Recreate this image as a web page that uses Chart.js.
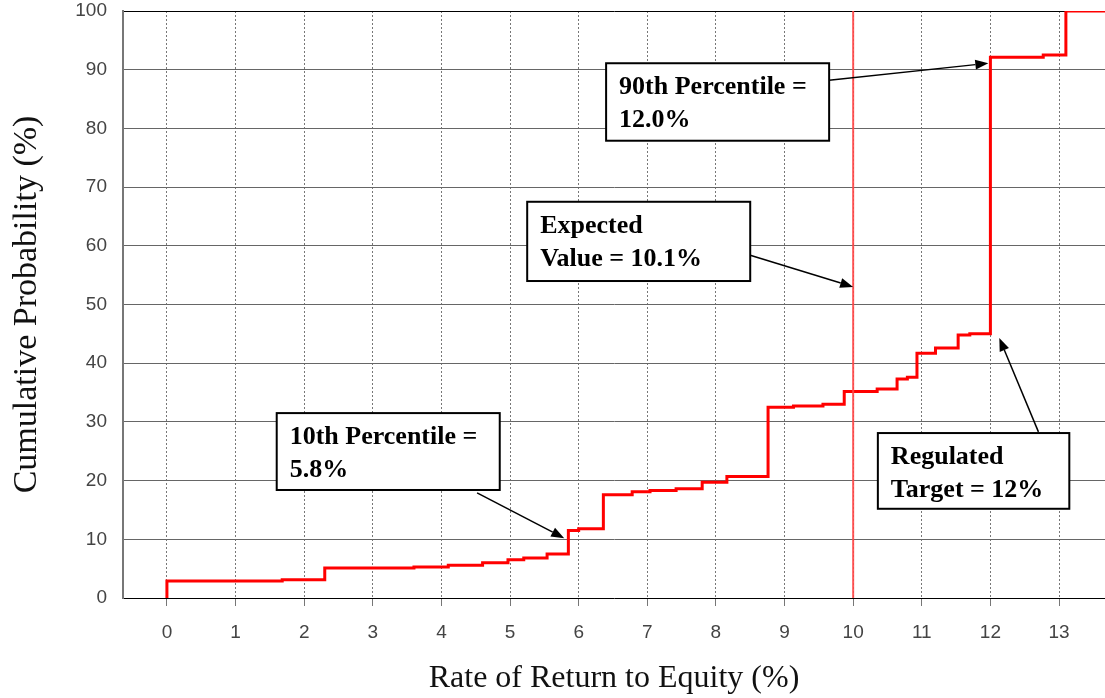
<!DOCTYPE html>
<html>
<head>
<meta charset="utf-8">
<script src="https://cdn.jsdelivr.net/npm/chart.js@4/dist/chart.umd.min.js"></script>
<style>
  html, body { margin: 0; padding: 0; background: #fff; }
</style>
</head>
<body>
<canvas id="cdf-chart" width="1105" height="698"></canvas>
<script>
// cumulative distribution of rate of return
const stepX = [0, 0, 1.68, 2.3, 3.6, 4.1, 4.6, 4.97, 5.2, 5.54, 5.85, 6.0, 6.36, 6.78, 7.04, 7.42, 7.8, 8.16,
               8.76, 9.13, 9.56, 9.87, 10.35, 10.64, 10.79, 10.93, 11.2, 11.53, 11.7, 12.0, 12.77, 13.1, 13.7];
const stepY = [0, 2.9, 3.1, 5.1, 5.3, 5.6, 6.0, 6.5, 6.8, 7.5, 11.5, 11.8, 17.6, 18.1, 18.3, 18.6, 19.7, 20.7,
               32.5, 32.7, 33.0, 35.2, 35.6, 37.3, 37.6, 41.7, 42.6, 44.8, 45.0, 92.1, 92.5, 100, 100];
const refLineX = 10;
const xTicks = [0, 1, 2, 3, 4, 5, 6, 7, 8, 9, 10, 11, 12, 13];
const yTicks = [0, 10, 20, 30, 40, 50, 60, 70, 80, 90, 100];

const noteText = [
  ['90th Percentile =', '12.0%'],
  ['Expected', 'Value = 10.1%'],
  ['10th Percentile =', '5.8%'],
  ['Regulated', 'Target = 12%']
];
// box [x0, x1, yTop, yBottom] and arrow [fromX, fromY, toX, toY], in data units
const noteBox = [
  [6.40, 9.65, 91.1, 77.9],
  [5.25, 8.50, 67.5, 54.0],
  [1.60, 4.85, 31.5, 18.4],
  [10.36, 13.15, 28.1, 15.2]
];
const noteArrow = [
  [9.65, 88.2, 11.97, 91.1],
  [8.50, 58.4, 10.0, 53.0],
  [4.52, 17.9, 5.79, 10.2],
  [12.70, 28.3, 12.13, 44.3]
];

const stepPoints = stepX.map((x, i) => ({x: x, y: stepY[i]}));

function drawArrow(ctx, x0, y0, x1, y1) {
  const ang = Math.atan2(y1 - y0, x1 - x0);
  const len = 13, half = 5;
  ctx.beginPath();
  ctx.moveTo(x0, y0);
  ctx.lineTo(x1 - Math.cos(ang) * len, y1 - Math.sin(ang) * len);
  ctx.stroke();
  ctx.beginPath();
  ctx.moveTo(x1, y1);
  ctx.lineTo(x1 - Math.cos(ang) * len - Math.sin(ang) * half, y1 - Math.sin(ang) * len + Math.cos(ang) * half);
  ctx.lineTo(x1 - Math.cos(ang) * len + Math.sin(ang) * half, y1 - Math.sin(ang) * len - Math.cos(ang) * half);
  ctx.closePath();
  ctx.fill();
}

const callouts = {
  id: 'callouts',
  afterDatasetsDraw(chart) {
    const ctx = chart.ctx;
    const xs = chart.scales.x, ys = chart.scales.y;
    ctx.save();
    noteText.forEach((lines, i) => {
      const b = noteBox[i], a = noteArrow[i];
      const l = xs.getPixelForValue(b[0]), r = xs.getPixelForValue(b[1]);
      const t = ys.getPixelForValue(b[2]), btm = ys.getPixelForValue(b[3]);
      ctx.fillStyle = '#fff';
      ctx.fillRect(l, t, r - l, btm - t);
      ctx.strokeStyle = '#000';
      ctx.lineWidth = 2;
      ctx.strokeRect(l, t, r - l, btm - t);
      ctx.fillStyle = '#000';
      ctx.font = 'bold 26px "Liberation Serif", "DejaVu Serif", serif';
      ctx.textBaseline = 'alphabetic';
      ctx.textAlign = 'left';
      ctx.fillText(lines[0], l + 13, t + 31);
      ctx.fillText(lines[1], l + 13, t + 64);
      ctx.lineWidth = 1.5;
      drawArrow(ctx, xs.getPixelForValue(a[0]), ys.getPixelForValue(a[1]),
                xs.getPixelForValue(a[2]), ys.getPixelForValue(a[3]));
    });
    ctx.restore();
  }
};

const tickFont = {family: '"Liberation Sans", Arial, sans-serif', size: 19};
const titleFont = {family: '"Liberation Serif", "Times New Roman", serif'};

new Chart(document.getElementById('cdf-chart'), {
  type: 'line',
  data: {
    datasets: [
      {
        data: [{x: refLineX, y: 0}, {x: refLineX, y: 100}],
        borderColor: 'rgba(255, 70, 70, 0.9)',
        borderWidth: 2,
        pointRadius: 0
      },
      {
        data: stepPoints,
        stepped: true,
        borderColor: '#ff0000',
        borderWidth: 3,
        pointRadius: 0
      }
    ]
  },
  options: {
    responsive: false,
    animation: false,
    devicePixelRatio: 1,
    layout: {padding: {top: 11, right: 0, left: 0, bottom: 0}},
    plugins: {legend: {display: false}, tooltip: {enabled: false}},
    scales: {
      x: {
        type: 'linear',
        min: -0.64,
        max: 13.67,
        afterBuildTicks: s => { s.ticks = xTicks.map(v => ({value: v})); },
        afterFit: s => { s.height = 100; s.paddingLeft = 0; s.paddingRight = 0; },
        ticks: {font: tickFont, color: '#444', padding: 15},
        grid: {color: '#777', lineWidth: 1, tickLength: 8, tickColor: '#777', tickBorderDash: []},
        border: {color: '#000', width: 1, dash: [2, 2]},
        title: {display: true, text: 'Rate of Return to Equity (%)', font: {...titleFont, size: 32}, color: '#111', padding: {top: 0, bottom: 0}}
      },
      y: {
        min: 0,
        max: 100,
        afterBuildTicks: s => { s.ticks = yTicks.map(v => ({value: v})); },
        afterFit: s => { s.width = 123; s.paddingTop = 0; s.paddingBottom = 0; },
        ticks: {font: tickFont, color: '#444', padding: 16},
        grid: {
          color: c => c.tick.value === 100 ? '#000' : (c.tick.value === 0 ? 'rgba(0,0,0,0)' : '#666'),
          lineWidth: 1,
          drawTicks: false
        },
        border: {color: '#777', width: 2},
        title: {display: true, text: 'Cumulative Probability (%)', font: {...titleFont, size: 34}, color: '#111', padding: {top: 7, bottom: 0}}
      }
    }
  },
  plugins: [callouts]
});
</script>
</body>
</html>
